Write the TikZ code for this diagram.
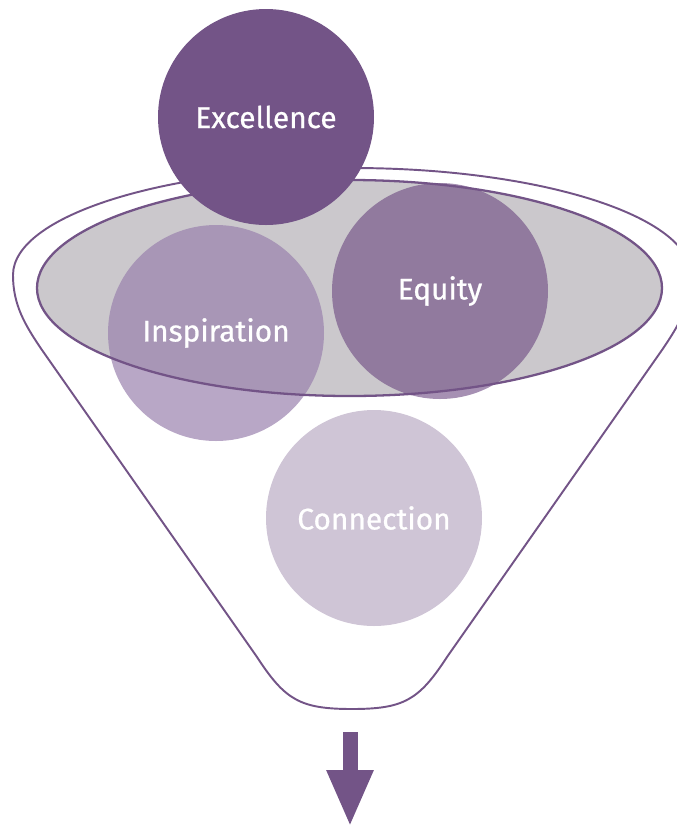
\documentclass[tikz,border=0pt]{standalone}
\usepackage{fontspec}
\setmainfont{Fira Sans}
\newfontfamily\bubblefont{Fira Sans}[FakeBold=0.7]
\usepackage{xcolor}
\usetikzlibrary{arrows.meta}

\definecolor{plum}{RGB}{115,84,135}
\definecolor{plumlight}{RGB}{154,129,174}
\definecolor{plummid}{RGB}{107,70,128}
\definecolor{rimgray}{RGB}{203,200,204}

\begin{document}
\begin{tikzpicture}[
		bubble/.style={circle, minimum size=4.32cm, inner sep=0pt, text=white, text opacity=1, font=\bubblefont\fontsize{17}{20}\selectfont},
		funnel line/.style={draw=plum, line width=1.1pt}]
				  \useasboundingbox (0,0) rectangle (13.54,-16.56);
				  % funnel body
				  \draw[funnel line] (0.26,-5.5) .. controls (0.26,-6.1) and (0.5,-6.5) .. (0.84,-7.0)
				    -- (5.14,-13.14) .. controls (5.7,-14.0) and (6.0,-14.18) .. (7.04,-14.18)
				    .. controls (8.08,-14.18) and (8.38,-14.0) .. (8.94,-13.14)
				    -- (13.24,-7.0) .. controls (13.58,-6.5) and (13.82,-6.1) .. (13.82,-5.5)
				    arc[start angle=0, end angle=180, x radius=6.78cm, y radius=2.14cm] -- cycle;
				  % rim
				  \fill[rimgray] (6.99,-5.76) ellipse[x radius=6.25cm, y radius=2.16cm];
				  \node[bubble, fill=plumlight, fill opacity=0.7] (inspiration) at (4.32,-6.66) {Inspiration};
				  \node[bubble, fill=plummid, fill opacity=0.6] (equity) at (8.80,-5.82) {Equity};
				  \draw[plum, line width=1.3pt] (6.99,-5.76) ellipse[x radius=6.25cm, y radius=2.16cm];
				  \node[bubble, fill=plum] (excellence) at (5.32,-2.34) {Excellence};
				  \node[bubble, fill=plum!34] (connection) at (7.48,-10.36) {Connection};
				  % outlet
				  \coordinate (out) at (7.0,-14.64);
				  \coordinate (tip) at (7.0,-16.54);
				  \draw[plum, line width=0.3cm, -{Triangle[length=1.14cm, width=0.86cm]}] (out) -- (tip);
				\end{tikzpicture}
\end{document}
